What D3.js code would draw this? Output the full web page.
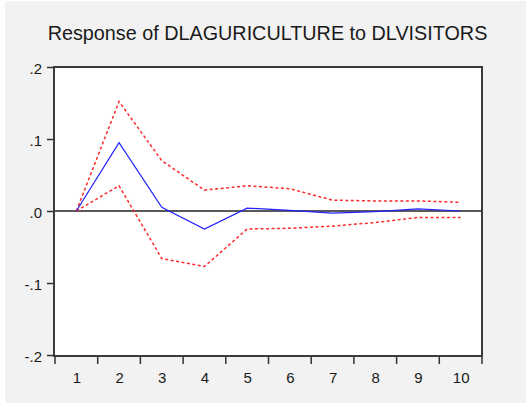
<!DOCTYPE html>
<html>
<head>
<meta charset="utf-8">
<script src="https://cdn.jsdelivr.net/npm/d3@7/dist/d3.min.js"></script>
<style>
  html, body { margin: 0; padding: 0; background: #ffffff; }
  svg { display: block; font-family: "Liberation Sans", Arial, sans-serif; }
</style>
</head>
<body>
<svg id="chart" width="526" height="405"></svg>
<script>
// Impulse response of DLAGURICULTURE to a DLVISITORS shock, with ±2 S.E. bands
const periods = [1, 2, 3, 4, 5, 6, 7, 8, 9, 10];
const response = [0.000, 0.095, 0.005, -0.025, 0.004, 0.001, -0.003, -0.001, 0.003, 0.000];
const upperBand = [0.000, 0.152, 0.070, 0.029, 0.035, 0.031, 0.015, 0.014, 0.014, 0.012];
const lowerBand = [0.000, 0.035, -0.066, -0.077, -0.025, -0.024, -0.021, -0.016, -0.009, -0.009];
const yTickValues = [0.2, 0.1, 0.0, -0.1, -0.2];
const yTickLabels = [".2", ".1", ".0", "-.1", "-.2"];
const titleText = "Response of DLAGURICULTURE to DLVISITORS";

const svg = d3.select("#chart");
const plot = { left: 54, right: 482, top: 67, bottom: 356 };

// panel background
svg.append("rect")
  .attr("x", 5).attr("y", 1)
  .attr("width", 521).attr("height", 402)
  .attr("fill", "#f2f2f2");

svg.append("rect")
  .attr("x", plot.left).attr("y", plot.top)
  .attr("width", plot.right - plot.left).attr("height", plot.bottom - plot.top)
  .attr("fill", "#ffffff");

const x = d3.scaleLinear().domain([0.5, 10.5]).range([plot.left + 1, plot.right]);
const y = d3.scaleLinear().domain([-0.2, 0.2]).range([plot.bottom - 1, plot.top]);

// title
svg.append("text")
  .attr("x", 267.5).attr("y", 40)
  .attr("text-anchor", "middle")
  .attr("font-size", "19.8px")
  .attr("fill", "#1a1a1a")
  .text(titleText);

// y axis
const yAxis = d3.axisLeft(y)
  .tickValues(yTickValues)
  .tickFormat((d, i) => yTickLabels[i])
  .tickSize(7)
  .tickPadding(5);
const gy = svg.append("g")
  .attr("transform", `translate(${plot.left},0)`)
  .call(yAxis);
gy.select(".domain").remove();
gy.selectAll(".tick line").attr("stroke", "#333").attr("stroke-width", 1.5);
gy.selectAll(".tick text")
  .attr("font-size", "15px")
  .attr("fill", "#1a1a1a")
  .attr("font-family", "'Liberation Sans', Arial, sans-serif")
  .attr("dy", "0.42em");

// x axis: boundary ticks between periods, labels centred on each period
const boundaries = d3.range(0.5, 11, 1);
svg.append("g")
  .selectAll("line")
  .data(boundaries)
  .join("line")
  .attr("x1", d => x(d)).attr("x2", d => x(d))
  .attr("y1", plot.bottom).attr("y2", plot.bottom + 8)
  .attr("stroke", "#333").attr("stroke-width", 1.5);

const xAxis = d3.axisBottom(x)
  .tickValues(periods)
  .tickFormat(d3.format("d"))
  .tickSize(0)
  .tickPadding(16);
const gx = svg.append("g")
  .attr("transform", `translate(0,${plot.bottom})`)
  .call(xAxis);
gx.select(".domain").remove();
gx.selectAll(".tick text")
  .attr("font-size", "15px")
  .attr("fill", "#1a1a1a")
  .attr("font-family", "'Liberation Sans', Arial, sans-serif");

// zero reference line
svg.append("line")
  .attr("x1", plot.left).attr("x2", plot.right)
  .attr("y1", y(0)).attr("y2", y(0))
  .attr("stroke", "#222").attr("stroke-width", 1.5);

const line = d3.line()
  .x((d, i) => x(periods[i]))
  .y(d => y(d));

// confidence bands
[upperBand, lowerBand].forEach(band => {
  svg.append("path")
    .datum(band)
    .attr("d", line)
    .attr("fill", "none")
    .attr("stroke", "#ff2a2a")
    .attr("stroke-width", 1.5)
    .attr("stroke-dasharray", "3,2.5");
});

// point response
svg.append("path")
  .datum(response)
  .attr("d", line)
  .attr("fill", "none")
  .attr("stroke", "#2222ff")
  .attr("stroke-width", 1.2);

// plot frame
svg.append("rect")
  .attr("x", plot.left).attr("y", plot.top)
  .attr("width", plot.right - plot.left).attr("height", plot.bottom - plot.top)
  .attr("fill", "none")
  .attr("stroke", "#3a3a3a")
  .attr("stroke-width", 2);
</script>
</body>
</html>
